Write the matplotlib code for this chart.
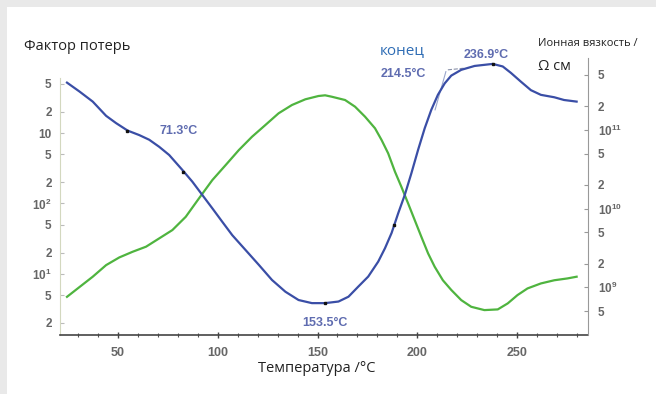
import matplotlib
matplotlib.use("Agg")
import matplotlib.pyplot as plt
from matplotlib.patches import Rectangle
from matplotlib.ticker import FixedLocator, FixedFormatter, MultipleLocator

# ion viscosity (blue, right axis), Ohm*cm
BLUE_T = [24.5, 30.8, 37.4, 44.1, 49.1, 54.9, 60.7, 65.7, 70.7, 75.7, 82.3, 87.3, 92.3, 97.3,
          102.3, 107.3, 113.9, 120.6, 127.2, 133.9, 140.5, 147.2, 153.8, 160.5, 165.5, 170.4,
          175.4, 180.4, 183.8, 187.1, 190.4, 193.7, 197.0, 200.4, 203.7, 207.0, 210.3, 213.7,
          217.0, 222.0, 228.7, 237.8, 242.8, 246.9, 251.9, 256.9, 261.9, 268.6, 273.5, 279.8]
BLUE_V = [3.99e11, 3.07e11, 2.29e11, 1.51e11, 1.22e11, 9.8e10, 8.6e10, 7.5e10, 6.1e10, 4.8e10,
          3.1e10, 2.2e10, 1.49e10, 1.01e10, 6.8e9, 4.6e9, 2.99e9, 1.93e9, 1.24e9, 8.8e8, 6.9e8,
          6.3e8, 6.3e8, 6.6e8, 7.6e8, 1.02e9, 1.37e9, 2.12e9, 3.14e9, 4.9e9, 8.7e9, 1.49e10,
          2.8e10, 5.6e10, 1.05e11, 1.8e11, 2.79e11, 3.9e11, 4.9e11, 5.8e11, 6.5e11, 6.9e11,
          6.4e11, 5.3e11, 4.1e11, 3.2e11, 2.79e11, 2.6e11, 2.4e11, 2.29e11]

# loss factor (green, left axis)
GREEN_T = [24.5, 30.8, 37.4, 44.1, 50.7, 57.4, 64.1, 70.7, 77.3, 84.0, 90.6, 97.3, 104.0,
           110.6, 117.2, 123.9, 130.5, 137.2, 143.9, 150.5, 153.8, 157.1, 163.8, 168.8, 173.8,
           178.8, 182.1, 185.4, 188.8, 192.0, 195.4, 198.7, 202.0, 205.4, 208.7, 212.8, 217.0,
           222.0, 227.0, 233.6, 240.3, 245.3, 250.2, 255.2, 261.9, 268.6, 275.2, 279.8]
GREEN_V = [4.71, 6.5, 9.1, 13.3, 17.1, 20.6, 24.3, 31.9, 41.9, 64.7, 118, 215, 352, 575, 889,
           1306, 1914, 2512, 3027, 3373, 3450, 3296, 2958, 2377, 1714, 1172, 798, 516, 283, 173,
           100, 58, 33.7, 19.5, 12.6, 8.1, 5.9, 4.23, 3.40, 3.05, 3.12, 3.80, 4.99, 6.2, 7.3,
           8.1, 8.6, 9.1]

MARK_T = [54.7, 82.7, 154.0, 188.4, 237.9]
MARK_V = [9.7e10, 2.93e10, 6.3e8, 6.2e9, 6.9e11]

TAN_T = [208.9, 214.3]
TAN_V = [1.8e11, 5.5e11]
DASH_T = [215.3, 223.8]
DASH_V = [5.8e11, 6.1e11]

LEFT_TICKS = [5e3, 2e3, 1e3, 500, 200, 100, 50, 20, 10, 5, 2]
LEFT_LABELS = ["5", "2", "10", "5", "2", r"$\mathregular{10^2}$", "5", "2",
               r"$\mathregular{10^1}$", "5", "2"]
RIGHT_TICKS = [5e11, 2e11, 1e11, 5e10, 2e10, 1e10, 5e9, 2e9, 1e9, 5e8]
RIGHT_LABELS = ["5", "2", r"$\mathregular{10^{11}}$", "5", "2", r"$\mathregular{10^{10}}$",
                "5", "2", r"$\mathregular{10^9}$", "5"]

W, H = 656, 394


def px(x, y):
    return x / W, 1 - y / H


fig = plt.figure(figsize=(6.56, 3.94), dpi=100, facecolor="#e9e9e9")
fig.patches.append(Rectangle(px(7, 394), 1 - 7 / W, 1 - 7 / H, transform=fig.transFigure,
                             facecolor="white", edgecolor="none", zorder=-10))

ax = fig.add_axes([60 / W, 1 - 335 / H, (588 - 60) / W, (335 - 58) / H])
ax.patch.set_alpha(0)
ax2 = ax.twinx()
ax2.patch.set_alpha(0)

ax.plot(GREEN_T, GREEN_V, color="#4fb43f", lw=1.6, zorder=3)
ax2.plot(BLUE_T, BLUE_V, color="#3a4ea6", lw=1.6, zorder=3)
ax2.plot(MARK_T, MARK_V, "s", color="#111111", ms=1.8, zorder=4)
ax2.plot(TAN_T, TAN_V, color="#9aa6cc", lw=0.8)
ax2.plot(DASH_T, DASH_V, color="#8890a8", lw=0.8, ls="--")

ax.set_xlim(21, 285.5)
ax.set_yscale("log")
ax.set_ylim(1.35, 1.17e4)
ax2.set_yscale("log")
ax2.set_ylim(2.48e8, 8.2e11)

ax.xaxis.set_major_locator(MultipleLocator(50))
ax.xaxis.set_minor_locator(MultipleLocator(10))
ax.tick_params(axis="x", which="major", length=4, width=1, color="#444444", pad=7,
               labelsize=9, labelcolor="#666666", direction="inout")
ax.tick_params(axis="x", which="minor", length=3, width=0.8, color="#555555", direction="inout")

ax.yaxis.set_major_locator(FixedLocator(LEFT_TICKS))
ax.yaxis.set_major_formatter(FixedFormatter(LEFT_LABELS))
ax.yaxis.set_minor_locator(FixedLocator([]))
ax.tick_params(axis="y", length=3, width=0.8, color="#bbbbbb", pad=6, labelsize=8.5,
               labelcolor="#666666", direction="in")

ax2.yaxis.set_major_locator(FixedLocator(RIGHT_TICKS))
ax2.yaxis.set_major_formatter(FixedFormatter(RIGHT_LABELS))
ax2.yaxis.set_minor_locator(FixedLocator([]))
ax2.tick_params(axis="y", length=3, width=0.8, color="#999999", pad=7, labelsize=8.5,
                labelcolor="#666666", direction="in")

for lab in ax.get_xticklabels() + ax.get_yticklabels() + ax2.get_yticklabels():
    lab.set_fontfamily("Liberation Sans")
    lab.set_fontweight("bold")

for a in (ax, ax2):
    a.spines["top"].set_visible(False)
ax.spines["right"].set_visible(False)
ax.spines["left"].set_color("#d3d8bf")
ax.spines["left"].set_bounds(1.35, 6000)
ax.spines["bottom"].set_color("#444444")
ax.spines["bottom"].set_linewidth(1.2)
ax2.spines["left"].set_visible(False)
ax2.spines["bottom"].set_visible(False)
ax2.spines["right"].set_color("#999999")

ann = dict(color="#5f6cb0", fontsize=9, family="Liberation Sans", weight="bold", va="center")
fig.text(*px(160, 131), "71.3°C", ha="left", **ann)
fig.text(*px(302, 323), "153.5°C", ha="left", **ann)
fig.text(*px(381, 74), "214.5°C", ha="left", **ann)
fig.text(*px(464, 55), "236.9°C", ha="left", **ann)
fig.text(*px(380, 51), "конец", ha="left", va="center", color="#2f6db5", fontsize=11,
         family="Open Sans")

fig.text(*px(24, 46), "Фактор потерь", ha="left", va="center", color="#222222",
         fontsize=10.5, family="Open Sans")
fig.text(*px(538, 44), "Ионная вязкость /", ha="left", va="center", color="#222222",
         fontsize=8, family="Open Sans")
fig.text(*px(538, 67), "Ω см", ha="left", va="center", color="#222222",
         fontsize=10.5, family="Open Sans")
fig.text(*px(317, 368), "Температура /°C", ha="center", va="center", color="#222222",
         fontsize=10.5, family="Open Sans")

fig.savefig("out.png", dpi=100, facecolor=fig.get_facecolor())
